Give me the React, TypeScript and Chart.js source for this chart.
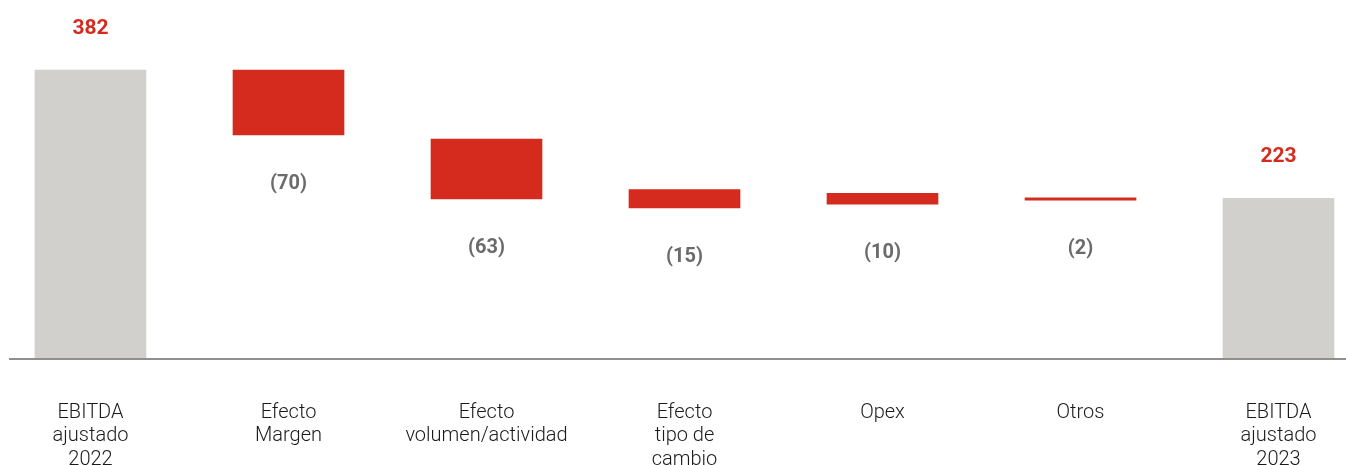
import React, { useEffect, useRef } from "react";
import { Chart, registerables } from "chart.js";

Chart.register(...registerables);

const categories: string[][] = [
  ["EBITDA", "ajustado", "2022"],
  ["Efecto", "Margen"],
  ["Efecto", "volumen/actividad"],
  ["Efecto", "tipo de", "cambio"],
  ["Opex"],
  ["Otros"],
  ["EBITDA", "ajustado", "2023"],
];

// floating bar ranges as drawn in the picture (the drawing is not to scale)
const barStart: number[] = [0, 382, 290.5, 223.5, 218.5, 212.5, 0];
const barEnd: number[] = [382, 296, 211, 199, 204, 209.5, 212];

// displayed values
const labelValues: number[] = [382, -70, -63, -15, -10, -2, 223];
const isTotal: boolean[] = [true, false, false, false, false, false, true];

const RED = "#d52b1e";
const GREY_BAR = "#d1d0cc";
const LABEL_GREY = "#6b6b6b";

const fmt = (v: number) => (v < 0 ? `(${Math.abs(v)})` : `${v}`);

const labelPlugin = {
  id: "wfLabels",
  afterDatasetsDraw(chart: any) {
    const ctx = chart.ctx;
    const meta = chart.getDatasetMeta(0);
    ctx.save();
    ctx.textAlign = "center";
    ctx.textBaseline = "middle";
    meta.data.forEach((el: any, i: number) => {
      const top = Math.min(el.y, el.base);
      const bottom = Math.max(el.y, el.base);
      if (isTotal[i]) {
        ctx.font = "bold 21px Roboto";
        ctx.fillStyle = RED;
        ctx.fillText(fmt(labelValues[i]), el.x, top - 41);
      } else {
        ctx.font = "bold 20px Roboto";
        ctx.fillStyle = LABEL_GREY;
        ctx.fillText(fmt(labelValues[i]), el.x, bottom + 49);
      }
    });
    ctx.restore();
  },
};

const axisLinePlugin = {
  id: "axisLine",
  afterDatasetsDraw(chart: any) {
    const ctx = chart.ctx;
    const y = chart.chartArea.bottom + 1;
    ctx.save();
    ctx.strokeStyle = "#8f8f8f";
    ctx.lineWidth = 2;
    ctx.beginPath();
    ctx.moveTo(9, y);
    ctx.lineTo(chart.width, y);
    ctx.stroke();
    ctx.restore();
  },
};

export default function App() {
  const ref = useRef<HTMLCanvasElement | null>(null);

  useEffect(() => {
    if (!ref.current) return;
    const chart = new Chart(ref.current, {
      type: "bar",
      data: {
        labels: categories,
        datasets: [
          {
            data: barStart.map((s, i) => [s, barEnd[i]]) as any,
            backgroundColor: isTotal.map((t) => (t ? GREY_BAR : RED)),
            borderWidth: 0,
            barThickness: 111,
            clip: false as any,
          },
        ],
      },
      options: {
        animation: false,
        responsive: true,
        maintainAspectRatio: false,
        layout: { padding: { left: 90.5, right: 67.5, top: 0, bottom: 0 } },
        plugins: {
          legend: { display: false },
          tooltip: { enabled: false },
          title: { display: false },
        },
        scales: {
          x: {
            offset: false,
            grid: { display: false, drawTicks: false },
            border: { display: false },
            ticks: {
              padding: 43,
              autoSkip: false,
              maxRotation: 0,
              color: "#1a1a1a",
              font: { family: "Roboto", size: 20, weight: "300", lineHeight: 1.18 },
            },
            afterFit: (scale: any) => {
              scale.height = 107;
              scale.paddingLeft = 0;
              scale.paddingRight = 0;
            },
          },
          y: {
            display: false,
            min: 0,
            max: 475,
          },
        },
      },
      plugins: [labelPlugin, axisLinePlugin],
    });
    return () => chart.destroy();
  }, []);

  return (
    <div
      style={{
        position: "absolute",
        left: 0,
        top: 0,
        width: 1346,
        height: 465,
        background: "#ffffff",
      }}
    >
      <canvas ref={ref} />
    </div>
  );
}
